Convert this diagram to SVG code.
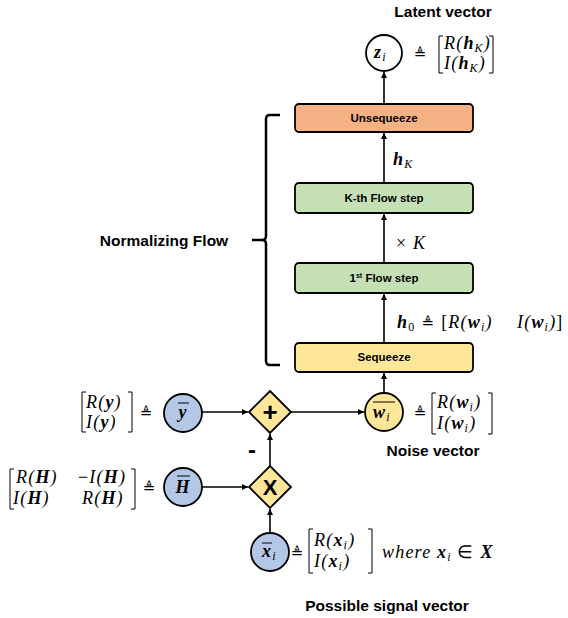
<svg xmlns="http://www.w3.org/2000/svg" width="568" height="618" viewBox="0 0 568 618">
<defs>
<marker id="ah" viewBox="0 0 6 6" refX="6" refY="3" markerWidth="6" markerHeight="6" markerUnits="userSpaceOnUse" orient="auto">
<path d="M0,0 L6,3 L0,6 z" fill="#000"/>
</marker>
</defs>
<style>
.box{stroke:#000;stroke-width:1.8}
.circ{stroke:#000;stroke-width:1.8}
.lbl{font-family:"Liberation Sans",Arial,sans-serif;font-weight:bold;font-size:11.5px;text-anchor:middle}
.title{font-family:"Liberation Sans",Arial,sans-serif;font-weight:bold;font-size:15.5px;text-anchor:middle}
.m{font-family:"Liberation Serif","Times New Roman",serif;font-size:18px;font-style:italic;letter-spacing:1.2px}
.b{font-weight:bold}
.up{font-style:normal}
.s{font-size:12px}
.eq{font-family:"DejaVu Sans",sans-serif;font-size:15px;text-anchor:middle}
.conn{stroke:#000;stroke-width:1.6;fill:none;marker-end:url(#ah)}
.br{stroke:#000;stroke-width:1;fill:none}
.ol{stroke:#000;stroke-width:1}
.op{font-family:"Liberation Sans",Arial,sans-serif;font-weight:bold;text-anchor:middle}
</style>
<rect width="568" height="618" fill="#fff"/>

<g id="connectors">
<line class="conn" x1="384" y1="104" x2="384" y2="72"/>
<line class="conn" x1="384" y1="183" x2="384" y2="133"/>
<line class="conn" x1="384" y1="263" x2="384" y2="214"/>
<line class="conn" x1="384" y1="343" x2="384" y2="294"/>
<line class="conn" x1="384" y1="393" x2="384" y2="373"/>
<line class="conn" x1="291" y1="412" x2="364" y2="412"/>
<line class="conn" x1="202" y1="412" x2="248" y2="412"/>
<line class="conn" x1="202" y1="487" x2="248" y2="487"/>
<line class="conn" x1="270" y1="466" x2="270" y2="434"/>
<line class="conn" x1="270" y1="533" x2="270" y2="509"/>
</g>

<g id="latent-title"><text class="title" x="443" y="17">Latent vector</text></g>

<g id="z">
<circle class="circ" cx="384" cy="53" r="18" fill="#fff"/>
<text class="m" x="374" y="58" font-size="20" letter-spacing="0"><tspan class="b">z</tspan><tspan class="s" dy="3">i</tspan></text>
</g>
<g id="z-def">
<text class="eq" x="420" y="59">≜</text>
<path class="br" d="M443,36 H439 V73 H443 M489,36 H493 V73 H489"/>
<text class="m" x="444" y="49">R(<tspan class="b">h</tspan><tspan class="s" dy="3">K</tspan><tspan dy="-3">)</tspan></text>
<text class="m" x="444" y="69">I(<tspan class="b">h</tspan><tspan class="s" dy="3">K</tspan><tspan dy="-3">)</tspan></text>
</g>

<g id="unsequeeze">
<rect class="box" x="295" y="104" width="178" height="28" rx="4" fill="#f4b183"/>
<text class="lbl" x="384" y="122">Unsequeeze</text>
</g>
<g id="hK"><text class="m" x="393" y="165"><tspan class="b">h</tspan><tspan class="s" dy="3">K</tspan></text></g>
<g id="kth">
<rect class="box" x="295" y="183" width="178" height="30" rx="4" fill="#c5e0b4"/>
<text class="lbl" x="384" y="202">K-th Flow step</text>
</g>
<g id="xK"><text class="m" x="396" y="249"><tspan class="up">× </tspan>K</text></g>
<g id="first">
<rect class="box" x="295" y="263" width="178" height="30" rx="4" fill="#c5e0b4"/>
<text class="lbl" x="384" y="282">1<tspan font-size="7" dy="-4">st</tspan><tspan dy="4"> Flow step</tspan></text>
</g>
<g id="h0"><text class="m" x="397" y="328"><tspan class="b">h</tspan><tspan class="up s" dy="3">0</tspan><tspan dy="-3" class="up" font-family="DejaVu Sans" font-size="15"> ≜ </tspan><tspan class="up">[</tspan>R(<tspan class="b">w</tspan><tspan class="s" dy="3">i</tspan><tspan dy="-3">)</tspan><tspan x="517">I(</tspan><tspan class="b">w</tspan><tspan class="s" dy="3">i</tspan><tspan dy="-3">)</tspan><tspan class="up">]</tspan></text></g>
<g id="sequeeze">
<rect class="box" x="295" y="343" width="178" height="29" rx="4" fill="#ffe699"/>
<text class="lbl" x="384" y="361">Sequeeze</text>
</g>

<g id="normalizing-flow">
<path d="M280,115 L270,115 Q266,115 266,119 L266,236 Q266,240 262,240 L252,240 M262,240 Q266,240 266,244 L266,361 Q266,365 270,365 L280,365" stroke="#000" stroke-width="2.5" fill="none"/>
<text class="title" x="164" y="246">Normalizing Flow</text>
</g>

<g id="w">
<circle class="circ" cx="384" cy="412" r="19" fill="#ffe699"/>
<text class="m" x="373" y="418" letter-spacing="0"><tspan class="b">w</tspan><tspan class="s" dy="3">i</tspan></text>
<line class="ol" x1="373" y1="402" x2="395" y2="402"/>
</g>
<g id="w-def">
<text class="eq" x="420" y="418">≜</text>
<path class="br" d="M436,393 H432 V434 H436 M488,393 H492 V434 H488"/>
<text class="m" x="437" y="408">R(<tspan class="b">w</tspan><tspan class="s" dy="3">i</tspan><tspan dy="-3">)</tspan></text>
<text class="m" x="437" y="429">I(<tspan class="b">w</tspan><tspan class="s" dy="3">i</tspan><tspan dy="-3">)</tspan></text>
<text class="title" x="433" y="456">Noise vector</text>
</g>

<g id="plus">
<polygon class="box" points="270,391 291,412 270,433 249,412" fill="#ffe699"/>
<text class="op" x="270" y="421" font-size="26">+</text>
</g>
<g id="minus"><text class="op" x="252" y="458" font-size="24">-</text></g>
<g id="times">
<polygon class="box" points="270,466 291,487 270,508 249,487" fill="#ffe699"/>
<text class="op" x="270" y="495" font-size="22">X</text>
</g>

<g id="y">
<circle class="circ" cx="183" cy="413" r="19" fill="#b4c7e7"/>
<text class="m b" x="183" y="418" text-anchor="middle" letter-spacing="0">y</text>
<line class="ol" x1="178" y1="403" x2="189" y2="403"/>
</g>
<g id="y-def">
<path class="br" d="M86,392 H82 V432 H86 M128,392 H132 V432 H128"/>
<text class="m" x="86" y="408">R(<tspan class="b">y</tspan>)</text>
<text class="m" x="86" y="428">I(<tspan class="b">y</tspan>)</text>
<text class="eq" x="146" y="418">≜</text>
</g>

<g id="H">
<circle class="circ" cx="183" cy="487" r="19" fill="#b4c7e7"/>
<text class="m b" x="183" y="493" text-anchor="middle" letter-spacing="0">H</text>
<line class="ol" x1="177" y1="476" x2="190" y2="476"/>
</g>
<g id="H-def">
<path class="br" d="M14,469 H10 V509 H14 M131,469 H135 V509 H131"/>
<text class="m" x="16" y="483">R(<tspan class="b">H</tspan>)</text>
<text class="m" x="78" y="483"><tspan class="up">−</tspan>I(<tspan class="b">H</tspan>)</text>
<text class="m" x="13" y="504">I(<tspan class="b">H</tspan>)</text>
<text class="m" x="82" y="504">R(<tspan class="b">H</tspan>)</text>
<text class="eq" x="149" y="493">≜</text>
</g>

<g id="x">
<circle class="circ" cx="270" cy="552" r="19" fill="#b4c7e7"/>
<text class="m" x="262" y="557" letter-spacing="0"><tspan class="b">x</tspan><tspan class="s" dy="3">i</tspan></text>
<line class="ol" x1="262" y1="543" x2="272" y2="543"/>
</g>
<g id="x-def">
<text class="eq" x="297" y="558">≜</text>
<path class="br" d="M313,529 H309 V573 H313 M368,529 H372 V573 H368"/>
<text class="m" x="314" y="546">R(<tspan class="b">x</tspan><tspan class="s" dy="3">i</tspan><tspan dy="-3">)</tspan></text>
<text class="m" x="314" y="567">I(<tspan class="b">x</tspan><tspan class="s" dy="3">i</tspan><tspan dy="-3">)</tspan></text>
<text class="m" x="382" y="558">where <tspan class="b">x</tspan><tspan class="s" dy="3">i</tspan><tspan dy="-3" class="up"> ∈ </tspan><tspan class="b">X</tspan></text>
<text class="title" x="387" y="611">Possible signal vector</text>
</g>
</svg>
